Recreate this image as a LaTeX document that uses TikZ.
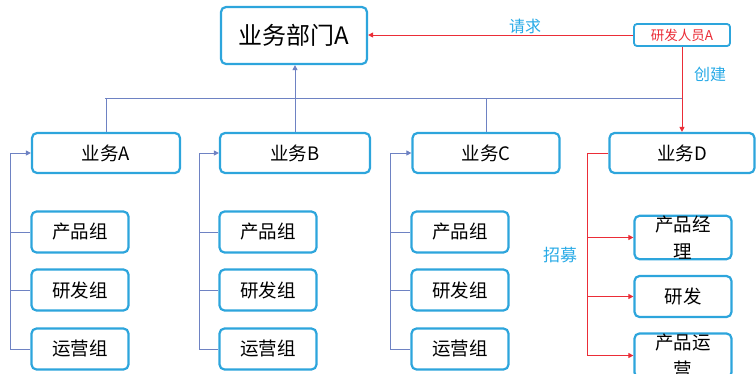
\documentclass[tikz,border=0pt]{standalone}
\usepackage{fontspec}
\setmainfont{Noto Sans CJK SC}
\usetikzlibrary{arrows.meta}
\definecolor{boxc}{RGB}{45,165,220}
\definecolor{linec}{RGB}{110,130,195}
\definecolor{redc}{RGB}{235,45,55}
\definecolor{labc}{RGB}{40,170,230}
\tikzset{
  bx/.style={draw=boxc, line width=2.2pt, rounded corners=5pt, fill=white, inner sep=0pt, align=center, font=\fontsize{18.5}{18.5}\selectfont},
  conn/.style={draw=linec, line width=0.9pt},
  rconn/.style={draw=redc, line width=1pt},
  tip/.style={-{Triangle[length=5pt,width=5pt]}},
  lab/.style={text=labc, font=\fontsize{16}{16}\selectfont, inner sep=0pt}
}
\begin{document}
\begin{tikzpicture}[x=1pt,y=-1pt]
\useasboundingbox (0,0) rectangle (756,373);
\clip (0,0) rectangle (756,373);
% top
\node[bx, minimum width=146pt, minimum height=57pt, font=\fontsize{24}{24}\selectfont] (top) at (294,35.5) {业务部门A};
\node[bx, line width=1.8pt, rounded corners=3pt, minimum width=96pt, minimum height=22pt, text=redc, font=\fontsize{13.5}{13.5}\selectfont] (dev) at (682,35) {研发人员A};
% business boxes
\node[bx, minimum width=148pt, minimum height=40pt] (bA) at (106,153) {业务A};
\node[bx, minimum width=150pt, minimum height=40pt] (bB) at (295,153) {业务B};
\node[bx, minimum width=147pt, minimum height=40pt] (bC) at (486,153) {业务C};
\node[bx, minimum width=145pt, minimum height=40pt] (bD) at (682,153) {业务D};
% sub boxes
\foreach \c/\x in {A/80, B/268, C/460}{
  \node[bx, minimum width=97pt, minimum height=41pt] (p\c) at (\x,232) {产品组};
  \node[bx, minimum width=97pt, minimum height=41pt] (r\c) at (\x,290) {研发组};
  \node[bx, minimum width=97pt, minimum height=41pt] (o\c) at (\x,349) {运营组};
}
\node[bx, minimum width=97pt, minimum height=41pt, font=\fontsize{18.5}{27}\selectfont] (pD) at (683,237.5) {产品经\\理};
\node[bx, minimum width=97pt, minimum height=41pt] (rD) at (683,296.5) {研发};
\node[bx, minimum width=97pt, minimum height=41pt, font=\fontsize{18.5}{27}\selectfont] (oD) at (683,355.5) {产品运\\营};
% bus
\coordinate (busL) at (105,98);
\coordinate (busR) at (683,98);
\draw[conn] (busL) -- (busR);
\draw[conn] (bA.north) -- (bA.north |- busL);
\draw[conn] (bC.north) -- (bC.north |- busL);
\draw[conn, tip] (bB.north) -- (bB.north |- top.south);
% request and create
\draw[rconn, tip] (dev.west) -- (dev.west -| top.east);
\node[lab] (req) at (525,26) {请求};
\draw[rconn, tip] (dev.south) -- (bD.north);
\node[lab] (cre) at (710,74) {创建};
% side connectors A,B,C
\foreach \c/\vx in {A/10, B/199, C/390}{
  \coordinate (v\c) at (\vx,153);
  \draw[conn] (v\c |- o\c.west) -- (v\c);
  \draw[conn, tip] (v\c) -- (b\c.west);
  \draw[conn] (v\c |- p\c.west) -- (p\c.west);
  \draw[conn] (v\c |- r\c.west) -- (r\c.west);
  \draw[conn] (v\c |- o\c.west) -- (o\c.west);
}
% D red connectors
\coordinate (vD) at (587,153);
\draw[rconn] (bD.west) -- (vD) -- (vD |- oD.west);
\draw[rconn, tip] (vD |- pD.west) -- (pD.west);
\draw[rconn, tip] (vD |- rD.west) -- (rD.west);
\draw[rconn, tip] (vD |- oD.west) -- (oD.west);
\node[lab, font=\fontsize{17}{17}\selectfont] (zm) at (560,255) {招募};
\end{tikzpicture}
\end{document}
